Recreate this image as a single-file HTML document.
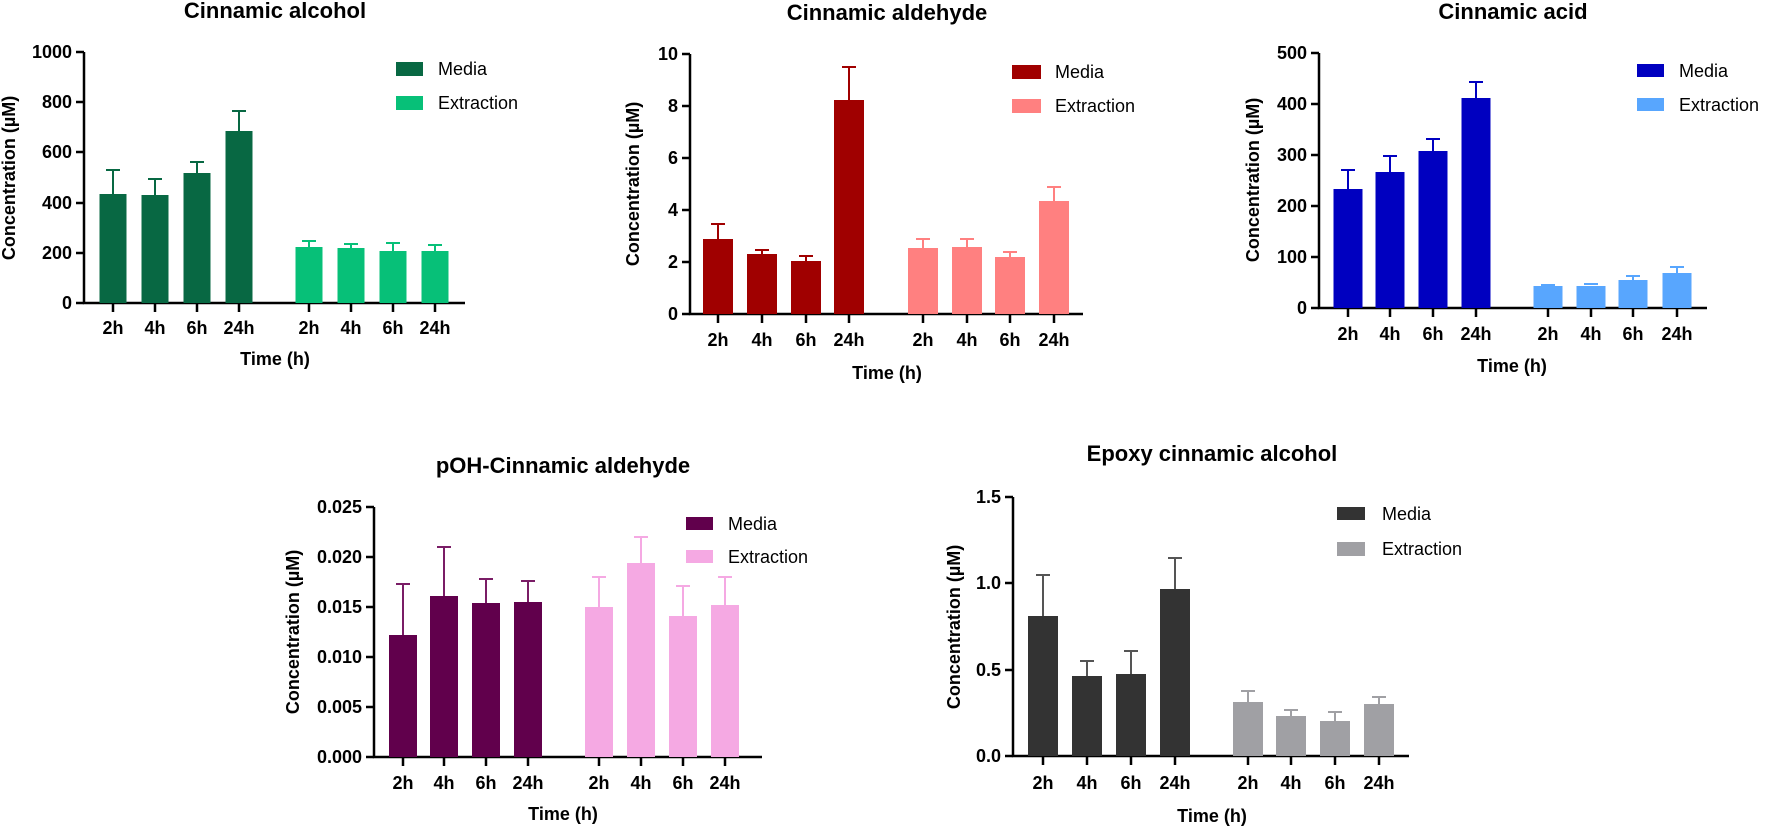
<!DOCTYPE html>
<html><head><meta charset="utf-8"><style>
html,body{margin:0;padding:0;background:#fff;}
svg{display:block;font-family:"Liberation Sans",Arial,sans-serif;}
.t{font-weight:bold;font-size:22px;text-anchor:middle;}
.yl{font-weight:bold;font-size:18px;text-anchor:end;}
.xl{font-weight:bold;font-size:18px;text-anchor:middle;}
.al{font-weight:bold;font-size:18px;text-anchor:middle;}
.lg{font-size:18px;}
.ax{stroke:#000;stroke-width:2.5;fill:none;}
</style></head><body>
<svg width="1772" height="827" viewBox="0 0 1772 827">
<!-- Chart 1 -->
<text class="t" x="275" y="18">Cinnamic alcohol</text>
<g class="ax"><path d="M84 52V303H465"/><path d="M76 52H84M76 102H84M76 152H84M76 203H84M76 253H84M76 303H84"/>
<path d="M113 303v9M155 303v9M197 303v9M239 303v9M309 303v9M351 303v9M393 303v9M435 303v9"/></g>
<g class="yl"><text x="72" y="58">1000</text><text x="72" y="108">800</text><text x="72" y="158">600</text><text x="72" y="209">400</text><text x="72" y="259">200</text><text x="72" y="309">0</text></g>
<g class="xl"><text x="113" y="334">2h</text><text x="155" y="334">4h</text><text x="197" y="334">6h</text><text x="239" y="334">24h</text><text x="309" y="334">2h</text><text x="351" y="334">4h</text><text x="393" y="334">6h</text><text x="435" y="334">24h</text></g>
<text class="al" x="275" y="365">Time (h)</text>
<text class="al" transform="translate(15,178) rotate(-90)">Concentration (µM)</text>
<g fill="#086843"><rect x="99.5" y="194" width="27" height="109"/><rect x="141.5" y="195" width="27" height="108"/><rect x="183.5" y="173" width="27" height="130"/><rect x="225.5" y="131" width="27" height="172"/></g>
<g stroke="#086843" stroke-width="2"><path d="M113 194V170M106 170H120M155 195V179M148 179H162M197 173V162M190 162H204M239 131V111M232 111H246"/></g>
<g fill="#07c078"><rect x="295.5" y="247" width="27" height="56"/><rect x="337.5" y="248" width="27" height="55"/><rect x="379.5" y="251" width="27" height="52"/><rect x="421.5" y="251" width="27" height="52"/></g>
<g stroke="#07c078" stroke-width="2"><path d="M309 247V241M302 241H316M351 248V244M344 244H358M393 251V243M386 243H400M435 251V245M428 245H442"/></g>
<rect x="396" y="62" width="27" height="14" fill="#086843"/><rect x="396" y="96" width="27" height="14" fill="#07c078"/>
<text class="lg" x="438" y="75">Media</text><text class="lg" x="438" y="109">Extraction</text>

<!-- Chart 2 -->
<text class="t" x="887" y="20">Cinnamic aldehyde</text>
<g class="ax"><path d="M690 54V314H1083"/><path d="M682 54H690M682 106H690M682 158H690M682 210H690M682 262H690M682 314H690"/>
<path d="M718 314v9M762 314v9M806 314v9M849 314v9M923 314v9M967 314v9M1010 314v9M1054 314v9"/></g>
<g class="yl"><text x="678" y="60">10</text><text x="678" y="112">8</text><text x="678" y="164">6</text><text x="678" y="216">4</text><text x="678" y="268">2</text><text x="678" y="320">0</text></g>
<g class="xl"><text x="718" y="346">2h</text><text x="762" y="346">4h</text><text x="806" y="346">6h</text><text x="849" y="346">24h</text><text x="923" y="346">2h</text><text x="967" y="346">4h</text><text x="1010" y="346">6h</text><text x="1054" y="346">24h</text></g>
<text class="al" x="887" y="379">Time (h)</text>
<text class="al" transform="translate(639,184) rotate(-90)">Concentration (µM)</text>
<g fill="#a00000"><rect x="703" y="239" width="30" height="75"/><rect x="747" y="254" width="30" height="60"/><rect x="791" y="261" width="30" height="53"/><rect x="834" y="100" width="30" height="214"/></g>
<g stroke="#a00000" stroke-width="2"><path d="M718 239V224M711 224H725M762 254V250M755 250H769M806 261V256M799 256H813M849 100V67M842 67H856"/></g>
<g fill="#ff8080"><rect x="908" y="248" width="30" height="66"/><rect x="952" y="247" width="30" height="67"/><rect x="995" y="257" width="30" height="57"/><rect x="1039" y="201" width="30" height="113"/></g>
<g stroke="#ff8080" stroke-width="2"><path d="M923 248V239M916 239H930M967 247V239M960 239H974M1010 257V252M1003 252H1017M1054 201V187M1047 187H1061"/></g>
<rect x="1012" y="65" width="29" height="14" fill="#a00000"/><rect x="1012" y="99" width="29" height="14" fill="#ff8080"/>
<text class="lg" x="1055" y="78">Media</text><text class="lg" x="1055" y="112">Extraction</text>

<!-- Chart 3 -->
<text class="t" x="1513" y="19">Cinnamic acid</text>
<g class="ax"><path d="M1319 53V308H1707"/><path d="M1311 53H1319M1311 104H1319M1311 155H1319M1311 206H1319M1311 257H1319M1311 308H1319"/>
<path d="M1348 308v9M1390 308v9M1433 308v9M1476 308v9M1548 308v9M1591 308v9M1633 308v9M1677 308v9"/></g>
<g class="yl"><text x="1307" y="59">500</text><text x="1307" y="110">400</text><text x="1307" y="161">300</text><text x="1307" y="212">200</text><text x="1307" y="263">100</text><text x="1307" y="314">0</text></g>
<g class="xl"><text x="1348" y="340">2h</text><text x="1390" y="340">4h</text><text x="1433" y="340">6h</text><text x="1476" y="340">24h</text><text x="1548" y="340">2h</text><text x="1591" y="340">4h</text><text x="1633" y="340">6h</text><text x="1677" y="340">24h</text></g>
<text class="al" x="1512" y="372">Time (h)</text>
<text class="al" transform="translate(1259,180) rotate(-90)">Concentration (µM)</text>
<g fill="#0000c0"><rect x="1333.5" y="189" width="29" height="119"/><rect x="1375.5" y="172" width="29" height="136"/><rect x="1418.5" y="151" width="29" height="157"/><rect x="1461.5" y="98" width="29" height="210"/></g>
<g stroke="#0000c0" stroke-width="2"><path d="M1348 189V170M1341 170H1355M1390 172V156M1383 156H1397M1433 151V139M1426 139H1440M1476 98V82M1469 82H1483"/></g>
<g fill="#58a6fe"><rect x="1533.5" y="286" width="29" height="22"/><rect x="1576.5" y="286" width="29" height="22"/><rect x="1618.5" y="280" width="29" height="28"/><rect x="1662.5" y="273" width="29" height="35"/></g>
<g stroke="#58a6fe" stroke-width="2"><path d="M1541 285H1555M1584 284H1598M1633 280V276M1626 276H1640M1677 273V267M1670 267H1684"/></g>
<rect x="1637" y="64" width="27" height="13" fill="#0000c0"/><rect x="1637" y="98" width="27" height="13" fill="#58a6fe"/>
<text class="lg" x="1679" y="77">Media</text><text class="lg" x="1679" y="111">Extraction</text>

<!-- Chart 4 -->
<text class="t" x="563" y="473">pOH-Cinnamic aldehyde</text>
<g class="ax"><path d="M374 507V757H762"/><path d="M366 507H374M366 557H374M366 607H374M366 657H374M366 707H374M366 757H374"/>
<path d="M403 757v9M444 757v9M486 757v9M528 757v9M599 757v9M641 757v9M683 757v9M725 757v9"/></g>
<g class="yl"><text x="362" y="513">0.025</text><text x="362" y="563">0.020</text><text x="362" y="613">0.015</text><text x="362" y="663">0.010</text><text x="362" y="713">0.005</text><text x="362" y="763">0.000</text></g>
<g class="xl"><text x="403" y="789">2h</text><text x="444" y="789">4h</text><text x="486" y="789">6h</text><text x="528" y="789">24h</text><text x="599" y="789">2h</text><text x="641" y="789">4h</text><text x="683" y="789">6h</text><text x="725" y="789">24h</text></g>
<text class="al" x="563" y="820">Time (h)</text>
<text class="al" transform="translate(299,632) rotate(-90)">Concentration (µM)</text>
<g fill="#61004c"><rect x="389" y="635" width="28" height="122"/><rect x="430" y="596" width="28" height="161"/><rect x="472" y="603" width="28" height="154"/><rect x="514" y="602" width="28" height="155"/></g>
<g stroke="#7a1d66" stroke-width="2"><path d="M403 635V584M396 584H410M444 596V547M437 547H451M486 603V579M479 579H493M528 602V581M521 581H535"/></g>
<g fill="#f5a9e3"><rect x="585" y="607" width="28" height="150"/><rect x="627" y="563" width="28" height="194"/><rect x="669" y="616" width="28" height="141"/><rect x="711" y="605" width="28" height="152"/></g>
<g stroke="#f5a9e3" stroke-width="2"><path d="M599 607V577M592 577H606M641 563V537M634 537H648M683 616V586M676 586H690M725 605V577M718 577H732"/></g>
<rect x="686" y="517" width="27" height="13" fill="#61004c"/><rect x="686" y="550" width="27" height="13" fill="#f5a9e3"/>
<text class="lg" x="728" y="530">Media</text><text class="lg" x="728" y="563">Extraction</text>

<!-- Chart 5 -->
<text class="t" x="1212" y="461">Epoxy cinnamic alcohol</text>
<g class="ax"><path d="M1013 497V756H1409"/><path d="M1005 497H1013M1005 583H1013M1005 670H1013M1005 756H1013"/>
<path d="M1043 756v9M1087 756v9M1131 756v9M1175 756v9M1248 756v9M1291 756v9M1335 756v9M1379 756v9"/></g>
<g class="yl"><text x="1001" y="503">1.5</text><text x="1001" y="589">1.0</text><text x="1001" y="676">0.5</text><text x="1001" y="762">0.0</text></g>
<g class="xl"><text x="1043" y="789">2h</text><text x="1087" y="789">4h</text><text x="1131" y="789">6h</text><text x="1175" y="789">24h</text><text x="1248" y="789">2h</text><text x="1291" y="789">4h</text><text x="1335" y="789">6h</text><text x="1379" y="789">24h</text></g>
<text class="al" x="1212" y="822">Time (h)</text>
<text class="al" transform="translate(960,627) rotate(-90)">Concentration (µM)</text>
<g fill="#333333"><rect x="1028" y="616" width="30" height="140"/><rect x="1072" y="676" width="30" height="80"/><rect x="1116" y="674" width="30" height="82"/><rect x="1160" y="589" width="30" height="167"/></g>
<g stroke="#555" stroke-width="2"><path d="M1043 616V575M1036 575H1050M1087 676V661M1080 661H1094M1131 674V651M1124 651H1138M1175 589V558M1168 558H1182"/></g>
<g fill="#a0a0a4"><rect x="1233" y="702" width="30" height="54"/><rect x="1276" y="716" width="30" height="40"/><rect x="1320" y="721" width="30" height="35"/><rect x="1364" y="704" width="30" height="52"/></g>
<g stroke="#a0a0a4" stroke-width="2"><path d="M1248 702V691M1241 691H1255M1291 716V710M1284 710H1298M1335 721V712M1328 712H1342M1379 704V697M1372 697H1386"/></g>
<rect x="1337" y="507" width="28" height="13" fill="#333333"/><rect x="1337" y="542" width="28" height="14" fill="#a0a0a4"/>
<text class="lg" x="1382" y="520">Media</text><text class="lg" x="1382" y="555">Extraction</text>
</svg>
</body></html>
